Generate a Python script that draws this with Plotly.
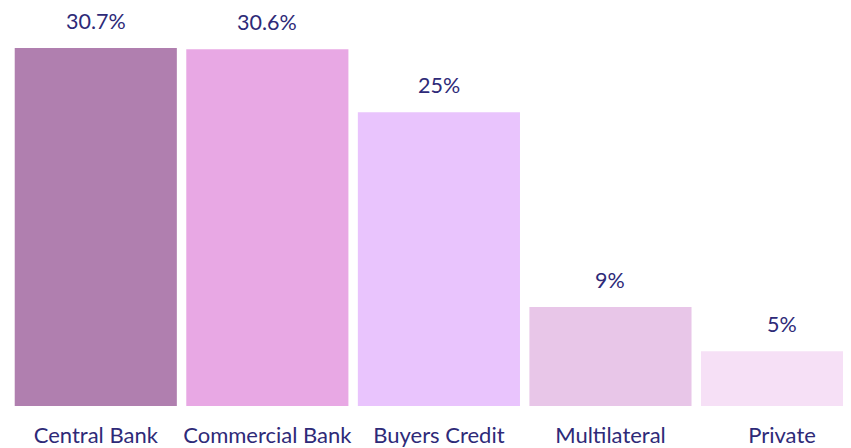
import plotly.graph_objects as go

# data
categories = ['Central Bank', 'Commercial Bank', 'Buyers Credit', 'Multilateral', 'Private']
shares = [30.7, 30.6, 25.2, 8.5, 4.7]
share_labels = ['30.7%', '30.6%', '25%', '9%', '5%']
bar_colors = ['#B07FAF', '#E8A8E4', '#E9C4FD', '#E8C6E8', '#F6E0F6']

text_color = '#2E2A78'
font_name = 'Lato'

fig = go.Figure(data=[go.Bar(
    x=categories,
    y=shares,
    marker_color=bar_colors,
    marker_line_width=0,
    hoverinfo='skip',
)])

# percentage labels above each bar
for cat, val, lab in zip(categories, shares, share_labels):
    fig.add_annotation(x=cat, y=val, text=lab, showarrow=False,
                       yanchor='bottom', yshift=12,
                       font=dict(family=font_name, size=21.5, color=text_color))

fig.update_layout(
    width=843, height=440,
    margin=dict(l=2, r=0, t=0, b=42),
    plot_bgcolor='white',
    paper_bgcolor='white',
    bargap=0.055,
    showlegend=False,
    font=dict(family=font_name, size=22, color=text_color),
)
fig.update_xaxes(range=[-0.5, 4.402], showline=False, showgrid=False,
                 ticks='', ticklabelstandoff=14,
                 tickfont=dict(family=font_name, size=22, color=text_color))
fig.update_yaxes(range=[0, 34.13], visible=False, showgrid=False)

fig.write_html("out.html")
